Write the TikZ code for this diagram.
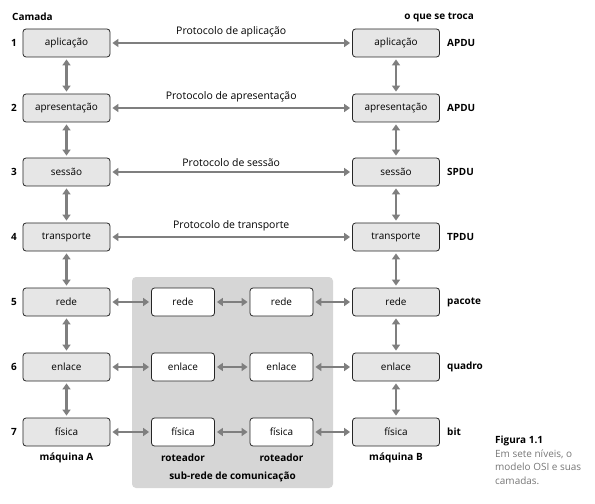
\documentclass[tikz,border=0pt]{standalone}
\usepackage{fontspec}
\setmainfont{Open Sans}
\usetikzlibrary{arrows.meta}
\definecolor{boxgray}{HTML}{E6E6E6}
\definecolor{arrowgray}{HTML}{7F7F7F}
\definecolor{netgray}{HTML}{D6D6D6}
\definecolor{capgray}{HTML}{777777}
\tikzset{
  layer/.style={draw=black!85, rounded corners=3bp, fill=boxgray, line width=0.8bp, minimum width=87bp, minimum height=28bp, inner sep=0pt, font=\fontsize{10}{12}\selectfont},
  router/.style={layer, fill=white, minimum width=63bp},
  link/.style={{Triangle[length=6bp,width=8bp]}-{Triangle[length=6bp,width=8bp]}, draw=arrowgray, line width=2.6bp, shorten >=2bp, shorten <=2bp},
  lbl/.style={font=\fontsize{10}{12}\selectfont\bfseries, inner sep=0pt},
  proto/.style={above=1bp, text=black, font=\fontsize{10.5}{12}\selectfont},
}
\begin{document}
\begin{tikzpicture}[x=1bp, y=-1bp]
\useasboundingbox (0,0) rectangle (595,504);
\fill[netgray, rounded corners=4bp] (132,277) rectangle (333,488);
\node[lbl, anchor=west] (camada) at (12,17){Camada};
\node[lbl, anchor=east] (troca) at (474,17){o que se troca};
\node[layer] (a1) at (66.5,43){aplicação};
\node[layer] (a2) at (66.5,108){apresentação};
\node[layer] (a3) at (66.5,172){sessão};
\node[layer] (a4) at (66.5,237){transporte};
\node[layer] (a5) at (66.5,302){rede};
\node[layer] (a6) at (66.5,367){enlace};
\node[layer] (a7) at (66.5,432){física};
\node[layer] (b1) at (396,43){aplicação};
\node[layer] (b2) at (396,108){apresentação};
\node[layer] (b3) at (396,172){sessão};
\node[layer] (b4) at (396,237){transporte};
\node[layer] (b5) at (396,302){rede};
\node[layer] (b6) at (396,367){enlace};
\node[layer] (b7) at (396,432){física};
\node[router] (r5) at (183,302){rede};
\node[router] (r6) at (183,367){enlace};
\node[router] (r7) at (183,432){física};
\node[router] (s5) at (281.5,302){rede};
\node[router] (s6) at (281.5,367){enlace};
\node[router] (s7) at (281.5,432){física};
\node[lbl] (n1) at (14,43){1};
\node[lbl] (n2) at (14,108){2};
\node[lbl] (n3) at (14,172){3};
\node[lbl] (n4) at (14,237){4};
\node[lbl] (n5) at (14,302){5};
\node[lbl] (n6) at (14,367){6};
\node[lbl] (n7) at (14,432){7};
\node[lbl, anchor=west] (u1) at (447,43){APDU};
\node[lbl, anchor=west] (u2) at (447,108){APDU};
\node[lbl, anchor=west] (u3) at (447,172){SPDU};
\node[lbl, anchor=west] (u4) at (447,237){TPDU};
\node[lbl, anchor=west] (u5) at (447,302){pacote};
\node[lbl, anchor=west] (u6) at (447,367){quadro};
\node[lbl, anchor=west] (u7) at (447,432){bit};
\node[lbl] (ma) at (66.5,458){máquina A};
\node[lbl] (mb) at (396,458){máquina B};
\node[lbl] (ro1) at (183,458){roteador};
\node[lbl] (ro2) at (281.5,458){roteador};
\node[lbl] (sub) at (232.5,477){sub-rede de comunicação};
\node[anchor=north west, align=left, inner sep=0pt, text=capgray, font=\fontsize{10}{13.5}\selectfont] (cap) at (495,436){\textcolor{black}{\bfseries Figura 1.1}\\Em sete níveis, o\\modelo OSI e suas\\camadas.};
\draw[link](a1) -- node[proto]{Protocolo de aplicação} (b1);
\draw[link](a2) -- node[proto]{Protocolo de apresentação} (b2);
\draw[link](a3) -- node[proto]{Protocolo de sessão} (b3);
\draw[link](a4) -- node[proto]{Protocolo de transporte} (b4);
\draw[link](a5) -- (r5);
\draw[link](r5) -- (s5);
\draw[link](s5) -- (b5);
\draw[link](a6) -- (r6);
\draw[link](r6) -- (s6);
\draw[link](s6) -- (b6);
\draw[link](a7) -- (r7);
\draw[link](r7) -- (s7);
\draw[link](s7) -- (b7);
\draw[link](a1) -- (a2);
\draw[link](a2) -- (a3);
\draw[link](a3) -- (a4);
\draw[link](a4) -- (a5);
\draw[link](a5) -- (a6);
\draw[link](a6) -- (a7);
\draw[link](b1) -- (b2);
\draw[link](b2) -- (b3);
\draw[link](b3) -- (b4);
\draw[link](b4) -- (b5);
\draw[link](b5) -- (b6);
\draw[link](b6) -- (b7);
\end{tikzpicture}
\end{document}
